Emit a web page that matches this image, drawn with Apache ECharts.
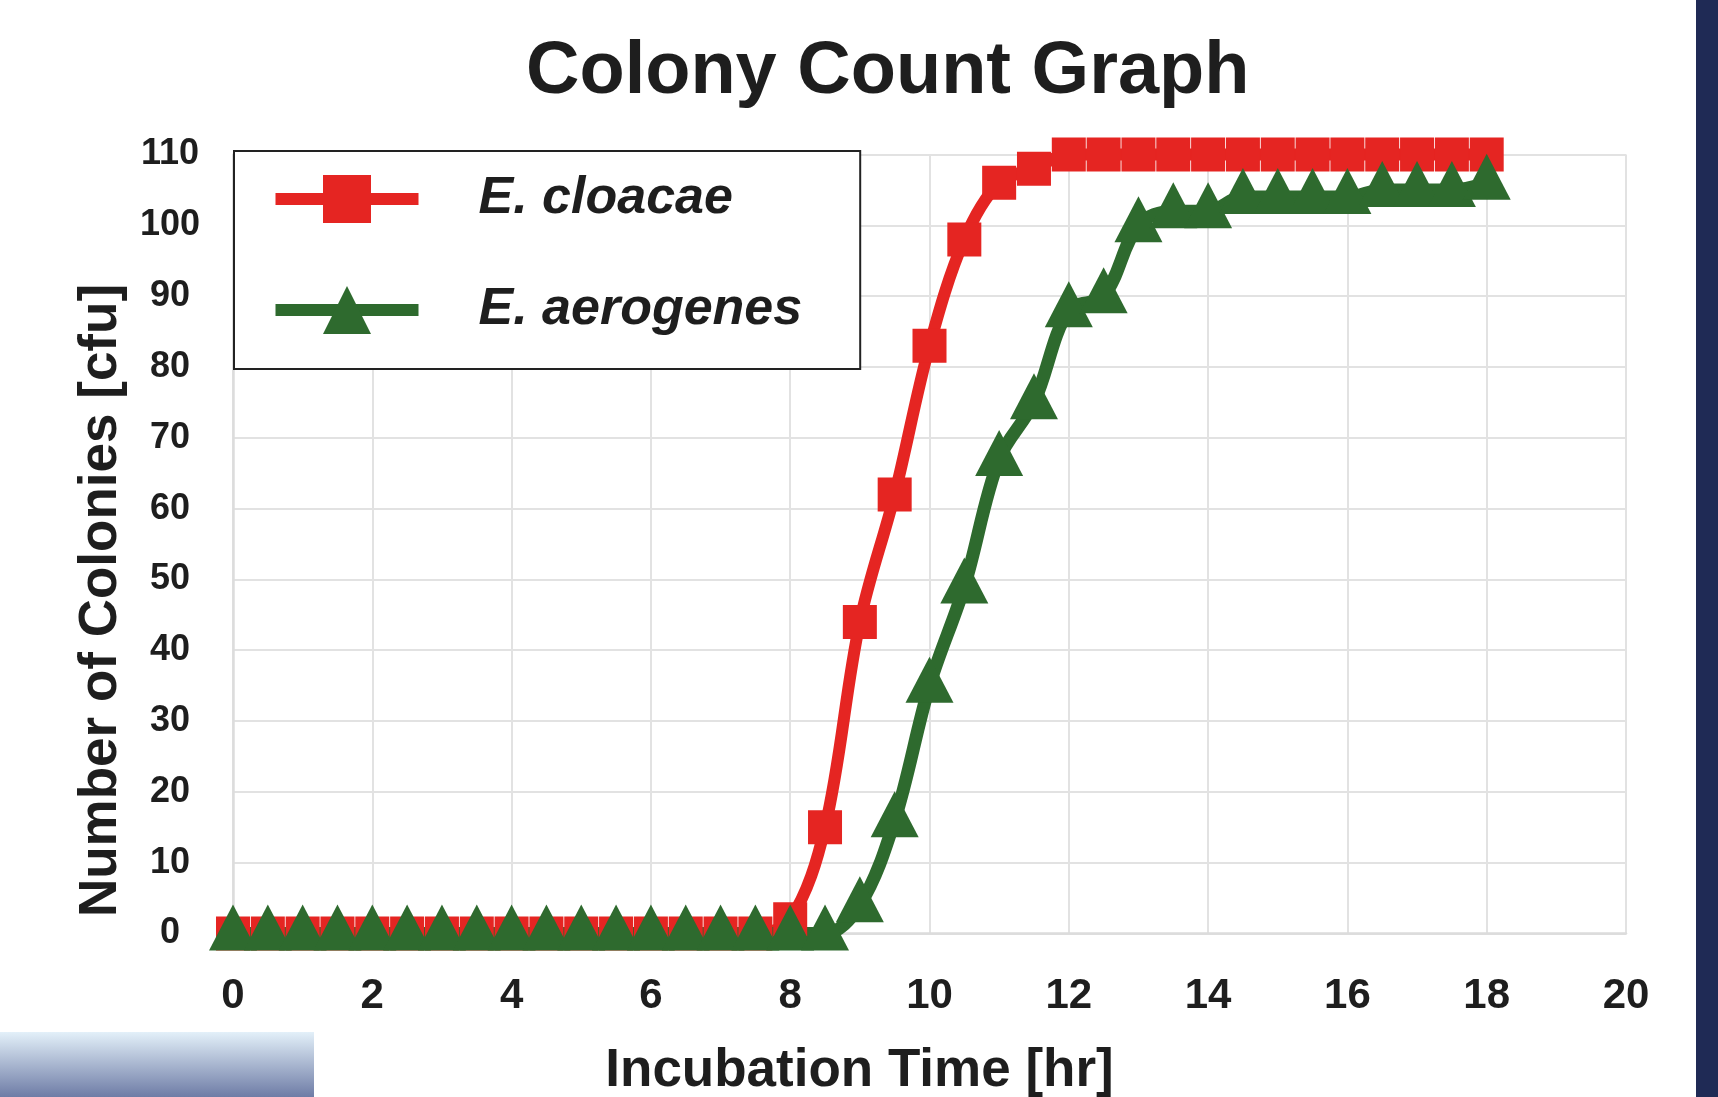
<!DOCTYPE html>
<html>
<head>
<meta charset="utf-8">
<title>Colony Count Graph</title>
<script src="https://cdn.jsdelivr.net/npm/echarts@6/dist/echarts.min.js"></script>
<style>
html, body { margin: 0; padding: 0; background: #fff; }
#main { width: 1718px; height: 1097px; }
</style>
</head>
<body>
<div id="main"></div>
<script>
// incubation time [hr], one reading every half hour
var hours = [0, 0.5, 1, 1.5, 2, 2.5, 3, 3.5, 4, 4.5, 5, 5.5, 6, 6.5, 7, 7.5, 8, 8.5,
  9, 9.5, 10, 10.5, 11, 11.5, 12, 12.5, 13, 13.5, 14, 14.5, 15, 15.5, 16, 16.5, 17, 17.5, 18]
// colonies [cfu]
var cloacae = [0, 0, 0, 0, 0, 0, 0, 0, 0, 0, 0, 0, 0, 0, 0, 0, 2, 15,
  44, 62, 83, 98, 106, 108, 110, 110, 110, 110, 110, 110, 110, 110, 110, 110, 110, 110, 110]
var aerogenes = [0, 0, 0, 0, 0, 0, 0, 0, 0, 0, 0, 0, 0, 0, 0, 0, 0, 0,
  4, 16, 35, 49, 67, 75, 88, 90, 100, 102, 102, 104, 104, 104, 104, 105, 105, 105, 106]
var seriesNames = ['E. cloacae', 'E. aerogenes']
var xTicks = [0, 20, 2] // min, max, step
var yTicks = [0, 110, 10]

var font = '"Liberation Sans", Arial, Helvetica, sans-serif'
var textColor = '#1e1e1e'

function pairs(ys) {
  var out = []
  for (var i = 0; i < hours.length; i++) {
    out.push([hours[i], ys[i]])
  }
  return out
}

var myChart = echarts.init(document.getElementById('main'), null, { renderer: 'canvas' })

var option = {
  animation: false,
  backgroundColor: '#fff',
  title: {
    text: 'Colony Count Graph',
    left: 526,
    top: 36,
    padding: 0,
    textStyle: { fontFamily: font, fontSize: 74, fontWeight: 'bold', color: textColor }
  },
  legend: {
    data: seriesNames,
    orient: 'vertical',
    left: 234,
    top: 151,
    padding: [22, 58, 33, 35.5],
    itemWidth: 143,
    itemHeight: 60,
    itemGap: 59,
    backgroundColor: '#fff',
    borderColor: '#222',
    borderWidth: 2,
    borderRadius: 0,
    lineStyle: { width: 12 },
    textStyle: {
      fontFamily: font, fontSize: 52, fontStyle: 'italic', fontWeight: 'bold',
      color: textColor, padding: [0, 0, 0, 55]
    }
  },
  grid: {
    left: 233,
    right: 92,
    top: 154.5,
    bottom: 163.5,
    outerBoundsMode: 'none'
  },
  xAxis: {
    type: 'value',
    min: xTicks[0],
    max: xTicks[1],
    interval: xTicks[2],
    name: 'Incubation Time [hr]',
    nameLocation: 'middle',
    nameGap: 111,
    nameTextStyle: {
      fontFamily: font, fontSize: 53, fontWeight: 'bold', color: textColor,
      padding: [0, 140, 0, 0]
    },
    axisLine: { show: true, lineStyle: { color: '#dcdcdc', width: 2.5 } },
    axisTick: { show: false },
    axisLabel: { fontFamily: font, fontSize: 42, fontWeight: 'bold', color: textColor, margin: 42 },
    splitLine: { show: true, lineStyle: { color: '#e2e2e2', width: 2 } }
  },
  yAxis: {
    type: 'value',
    min: yTicks[0],
    max: yTicks[1],
    interval: yTicks[2],
    name: 'Number of Colonies [cfu]',
    nameLocation: 'middle',
    nameGap: 105,
    nameTextStyle: {
      fontFamily: font, fontSize: 53, fontWeight: 'bold', color: textColor,
      padding: [0, 113, 0, 0]
    },
    axisLine: { show: true, lineStyle: { color: '#dcdcdc', width: 2.5 } },
    axisTick: { show: false },
    axisLabel: { fontFamily: font, fontSize: 36, fontWeight: 'bold', color: textColor, margin: 63, align: 'center' },
    splitLine: { show: true, lineStyle: { color: '#e2e2e2', width: 2 } }
  },
  series: [
    {
      name: seriesNames[0],
      type: 'line',
      smooth: 0.35,
      clip: false,
      symbol: 'rect',
      symbolSize: 34,
      itemStyle: { color: '#e52522' },
      lineStyle: { color: '#e52522', width: 12 },
      data: pairs(cloacae)
    },
    {
      name: seriesNames[1],
      type: 'line',
      smooth: 0.35,
      clip: false,
      symbol: 'triangle',
      symbolSize: [48, 46],
      symbolOffset: [0, -6],
      itemStyle: { color: '#2e6a2e' },
      lineStyle: { color: '#2e6a2e', width: 13 },
      data: pairs(aerogenes)
    }
  ],
  graphic: [
    {
      type: 'rect',
      left: 0,
      top: 1032,
      shape: { width: 314, height: 65 },
      style: {
        fill: new echarts.graphic.LinearGradient(0, 0, 0, 1, [
          { offset: 0, color: '#e3f0f9' },
          { offset: 1, color: '#6e7ca6' }
        ])
      },
      silent: true
    },
    {
      type: 'rect',
      left: 1696,
      top: 0,
      shape: { width: 22, height: 1097 },
      style: { fill: '#1f2a55' },
      silent: true
    }
  ]
}

myChart.setOption(option)
</script>
</body>
</html>
